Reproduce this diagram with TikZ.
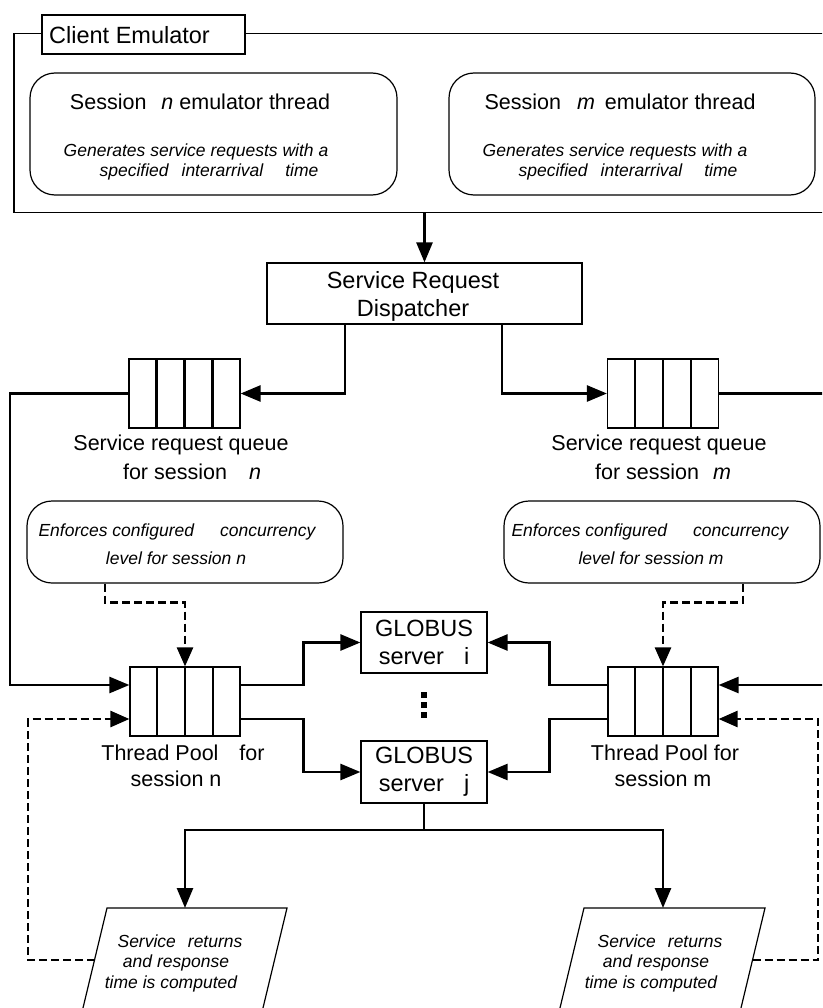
\documentclass[tikz,border=0pt]{standalone}
\usepackage{fontspec}
\setmainfont{Liberation Sans}
\usetikzlibrary{arrows.meta,calc}
\begin{document}
\begin{tikzpicture}[x=1pt,y=-1pt,
  big/.style={font=\fontsize{23.5}{28}\selectfont},
  lab/.style={font=\fontsize{21.5}{26}\selectfont, inner sep=0},
  ital/.style={font=\fontsize{17.5}{21}\selectfont\itshape, inner sep=0},
  frameline/.style={line width=1.2pt},
  sqbox/.style={draw, frameline, inner sep=0, align=center, big},
  rbox/.style={draw, frameline, rounded corners=25pt, inner sep=0},
  qbox/.style={draw, frameline, inner sep=0, minimum width=111pt, minimum height=69pt},
  divider/.style={line width=2.2pt},
  conn/.style={line width=2.6pt, -{Triangle[length=20pt,width=16pt]}},
  dconn/.style={line width=2.6pt, dash pattern=on 8pt off 4pt, -{Triangle[length=19pt,width=16pt]}}
]
\useasboundingbox (0,0) rectangle (822,1008);
\clip (0,0) rectangle (822,1008);

% helper coordinates
\coordinate (yin) at (0,685);
\coordinate (ydn) at (0,719);
\coordinate (ybot) at (0,830);

% Client emulator frame
\node[draw, frameline, minimum width=203pt, minimum height=39pt, inner sep=0] (ce) at (143.5,34.5) {};
\node[big, anchor=west, inner sep=0] (cet) at (49,35) {Client Emulator};
\draw[frameline] (ce.east |- 0,33.5) -- (835,33.5) -- (835,212.5) -- (14,212.5) -- (14,33.5) -- (ce.west |- 0,33.5);
\coordinate (fb) at (424.5,212.5);

% session boxes
\node[rbox, minimum width=367pt, minimum height=122pt] (s1) at (213.5,134) {};
\node[lab] (s1t) at (200,102) {Session\hspace{15pt}\textit{n} emulator thread};
\node[ital] (s1a) at (196,152) {Generates service requests with a};
\node[ital] (s1b) at (209,172) {specified\hspace{13pt}interarrival\hspace{22pt}time};

\node[rbox, minimum width=366pt, minimum height=122pt] (s2) at (632,134) {};
\node[lab] (s2t) at (620,102) {Session\hspace{16pt}\textit{m}\hspace{10pt}emulator thread};
\node[ital] (s2a) at (615,152) {Generates service requests with a};
\node[ital] (s2b) at (628,172) {specified\hspace{13pt}interarrival\hspace{22pt}time};

% dispatcher
\node[sqbox, minimum width=315pt, minimum height=61pt] (disp) at (424.5,293.5) {};
\node[big, align=center, inner sep=0] (dispt) at (413,296) {Service Request\\Dispatcher};
\draw[conn] (fb) -- (disp.north);

% queues
\node[qbox] (q1) at (184.5,393.5) {};
\node[qbox] (q2) at (663,393.5) {};
\node[qbox, minimum width=110pt] (tp1) at (185,701.5) {};
\node[qbox, minimum width=110pt] (tp2) at (663,701.5) {};
\foreach \q in {q1,q2,tp1,tp2}
  \foreach \i in {1,2,3}
    \draw[divider] ($(\q.north west)!\i/4!(\q.north east)$) -- ($(\q.south west)!\i/4!(\q.south east)$);

\node[lab] (q1l1) at (181,445) {Service request queue};
\node[lab] (q1l2) at (192,472) {for session\hspace{22pt}\textit{n}};
\node[lab] (q2l1) at (659,445) {Service request queue};
\node[lab] (q2l2) at (663,472) {for session\hspace{14pt}\textit{m}};

\node[lab] (tp1l1) at (183,753) {Thread Pool\hspace{21pt}for};
\node[lab] (tp1l2) at (176,779) {session n};
\node[lab] (tp2l1) at (665,753) {Thread Pool for};
\node[lab] (tp2l2) at (663,779) {session m};

% concurrency boxes
\node[rbox, minimum width=316pt, minimum height=82pt] (c1) at (185,542) {};
\node[ital] (c1a) at (177,532) {Enforces configured\hspace{26pt}concurrency};
\node[ital] (c1b) at (176,558) {level for session n};
\node[rbox, minimum width=316pt, minimum height=82pt] (c2) at (662,542) {};
\node[ital] (c2a) at (650,532) {Enforces configured\hspace{26pt}concurrency};
\node[ital] (c2b) at (651,558) {level for session m};

% globus servers
\node[sqbox, minimum width=126pt, minimum height=61pt] (g1) at (424,642.5) {GLOBUS\\server\hspace{20pt}i};
\node[sqbox, minimum width=126pt, minimum height=62pt] (g2) at (424,772) {GLOBUS\\server\hspace{20pt}j};
\node[fill, minimum size=6.5pt, inner sep=0] (d1) at (424,695) {};
\node[fill, minimum size=6.5pt, inner sep=0] (d2) at (424,705) {};
\node[fill, minimum size=6.5pt, inner sep=0] (d3) at (424,715) {};

% parallelograms
\draw[frameline] (107,908) -- (287,908) -- (257.7,1030) -- (77.7,1030) -- cycle;
\draw[frameline] (584,908) -- (765,908) -- (735.7,1030) -- (554.7,1030) -- cycle;
\coordinate (p1t) at (185,908);
\coordinate (p1l) at (94.5,960);
\coordinate (p2t) at (663,908);
\coordinate (p2r) at (752.5,960);
\node[ital] (p1a) at (180,941) {Service\hspace{12pt}returns};
\node[ital] (p1b) at (176,963) {and response};
\node[ital] (p1c) at (171,984) {time is computed};
\node[ital] (p2a) at (660,941) {Service\hspace{12pt}returns};
\node[ital] (p2b) at (656,963) {and response};
\node[ital] (p2c) at (651,984) {time is computed};

% connectors
\draw[conn] ([xshift=-79.5pt]disp.south) |- (q1.east);
\draw[conn] ([xshift=77.5pt]disp.south) |- (q2.west);
\draw[conn] (q1.west) -| (10,685) -- (tp1.west |- yin);
\draw[conn] (q2.east) -| (835,685) -- (tp2.east |- yin);

\draw[conn] (tp1.east |- yin) -- ++(63,0) |- (g1.west);
\draw[conn] (tp1.east |- ydn) -- ++(63,0) |- (g2.west);
\draw[conn] (tp2.west |- yin) -- ++(-58,0) |- (g1.east);
\draw[conn] (tp2.west |- ydn) -- ++(-58,0) |- (g2.east);

\draw[dconn] ([xshift=-80pt]c1.south) -- ++(0,19) -| (tp1.north);
\draw[dconn] ([xshift=81pt]c2.south) -- ++(0,19) -| (tp2.north);
\draw[dconn] (p1l) -| (28,719) -- (tp1.west |- ydn);
\draw[dconn] (p2r) -| (818,719) -- (tp2.east |- ydn);

\draw[conn] (g2.south) |- (p1t |- ybot) -- (p1t);
\draw[conn] (g2.south) |- (p2t |- ybot) -- (p2t);
\end{tikzpicture}
\end{document}
